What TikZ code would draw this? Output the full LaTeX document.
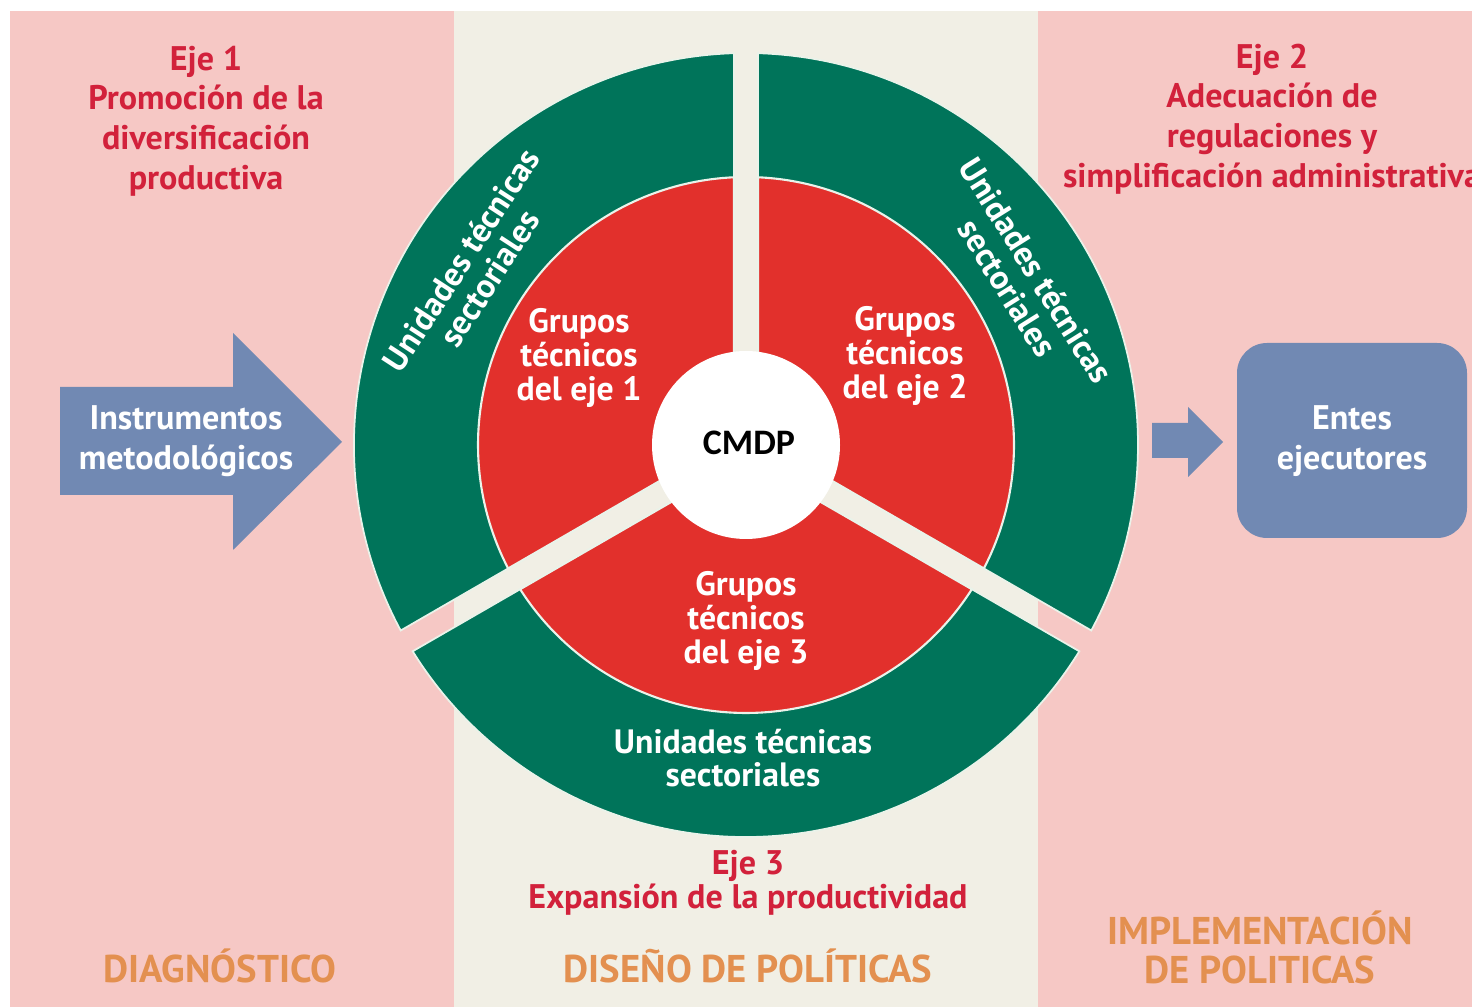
\documentclass[tikz,border=0pt]{standalone}
\usepackage{fontspec}
\setmainfont{PT Sans}
\newfontfamily\cmdpfont{Carlito}
\usetikzlibrary{positioning}

\definecolor{pinkbg}{HTML}{F6C8C5}
\definecolor{creambg}{HTML}{F1EFE5}
\definecolor{ringgreen}{HTML}{00745A}
\definecolor{ringred}{HTML}{E2302C}
\definecolor{ejered}{HTML}{D2213B}
\definecolor{stageorange}{HTML}{E39050}
\definecolor{blockblue}{HTML}{7189B3}
\definecolor{rimline}{HTML}{EAF3EA}

\begin{document}
\begin{tikzpicture}[x=0.01cm, y=-0.01cm]
			\tikzstyle{Eje}		= [text=ejered, align=center, font=\bfseries\fontsize{9.7}{11.3}\selectfont]
			\tikzstyle{Stage}	= [text=stageorange, align=center, font=\bfseries\fontsize{11}{11.1}\selectfont]
			\tikzstyle{Inner}	= [text=white, align=center, font=\bfseries\fontsize{9.6}{9.6}\selectfont]
			\tikzstyle{Ring}	= [fill=ringgreen, draw=rimline, line width=0.5pt]
			\tikzstyle{Core}	= [fill=ringred, draw=rimline, line width=0.6pt]
			\tikzstyle{Block}	= [fill=blockblue]

			\useasboundingbox (0,0) rectangle (1472,1007);
			\fill[white] (0,0) rectangle (1472,1007);
			\fill[pinkbg] (10,11) rectangle (454,1007);
			\fill[creambg] (454,11) rectangle (1038,1007);
			\fill[pinkbg] (1038,11) rectangle (1472,1007);

			\begin{scope}[shift={(746,445)}]
				\foreach \a in {150,270,30} {
					\filldraw[Ring] ({\a+asin(12/392)}:392)
						arc[start angle={\a+asin(12/392)}, end angle={\a+120-asin(12/392)}, radius=392]
						-- ({\a+120-asin(12/60)}:60)
						arc[start angle={\a+120-asin(12/60)}, end angle={\a+asin(12/60)}, radius=60] -- cycle;
					\filldraw[Core] ({\a+asin(12/268)}:268)
						arc[start angle={\a+asin(12/268)}, end angle={\a+120-asin(12/268)}, radius=268]
						-- ({\a+120-asin(12/60)}:60)
						arc[start angle={\a+120-asin(12/60)}, end angle={\a+asin(12/60)}, radius=60] -- cycle;
				}
				\fill[white] (0,0) circle[radius=94];
				\node (cmdp) at (3,-2) [font=\cmdpfont\bfseries\fontsize{10.2}{12}\selectfont] {CMDP};

				\node (grupos1) at (-167,-87) [Inner] {Grupos\\técnicos\\del eje 1};
				\node (grupos2) at (159,-89) [Inner] {Grupos\\técnicos\\del eje 2};
				\node (grupos3) at (0,176) [Inner] {Grupos\\técnicos\\del eje 3};

				\node (unidades1) at (213:323) [Inner, rotate=57] {Unidades técnicas\\sectoriales};
				\node (unidades2) at (-31:322) [Inner, rotate=-58] {Unidades técnicas\\sectoriales};
				\node (unidades3) at (-3,313) [Inner] {Unidades técnicas\\sectoriales};
			\end{scope}

			\fill[Block] (60,387) -- (233,387) -- (233,333) -- (342,442) -- (233,550) -- (233,495) -- (60,495) -- cycle;
			\node (instrumentos) at (186,441) [Inner, font=\bfseries\fontsize{9.7}{11.3}\selectfont] {Instrumentos\\metodológicos};

			\fill[Block] (1152,423) -- (1188,423) -- (1188,407) -- (1223,442) -- (1188,477) -- (1188,458) -- (1152,458) -- cycle;
			\fill[Block, rounded corners=0.3cm] (1237,343) rectangle (1467,538);
			\node (entes) at (1352,441) [Inner, font=\bfseries\fontsize{9.7}{11.3}\selectfont] {Entes\\ejecutores};

			\node (eje1) at (206,121) [Eje] {Eje 1\\Promoción de la\\diversificación\\productiva};
			\node (eje2) at (1272,119) [Eje] {Eje 2\\Adecuación de\\regulaciones y\\simplificación administrativa};
			\node (eje3) at (748,883) [Eje, font=\bfseries\fontsize{9.7}{9.7}\selectfont] {Eje 3\\Expansión de la productividad};

			\node (diagnostico) at (220,966) [Stage] {DIAGNÓSTICO};
			\node (diseno) at (748,966) [Stage] {DISEÑO DE POLÍTICAS};
			\node (implementacion) at (1260,947) [Stage] {IMPLEMENTACIÓN\\DE POLITICAS};
\end{tikzpicture}
\end{document}
